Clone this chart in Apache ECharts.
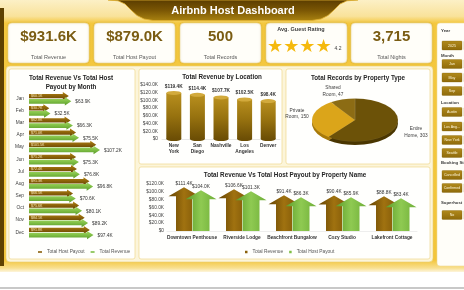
<!DOCTYPE html>
<html><head><meta charset="utf-8">
<script src="https://cdn.jsdelivr.net/npm/echarts@6/dist/echarts.min.js"></script>
<style>html,body{margin:0;padding:0;background:#fff;overflow:hidden}
#main{position:absolute;left:0;top:0;width:464px;height:290px}
#pie{position:absolute;left:309px;top:96.5px;width:92px;height:100px;transform:scaleY(0.5);transform-origin:0 0}</style>
</head><body>
<div id="main"></div><div id="pie"></div>
<script>
// ---- data ----
const dashboardTitle = 'Airbnb Host Dashboard';
const kpiLabels = ['Total Revenue', 'Total Host Payout', 'Total Records', 'Total Nights'];
const kpiValues = ['$931.6K', '$879.0K', '500', '3,715'];
const ratingLabel = 'Avg. Guest Rating';
const avgRating = 4.2;
const months = ['Jan','Feb','Mar','Apr','May','Jun','Jul','Aug','Sep','Oct','Nov','Dec'];
const monthRevenue = [63.9, 32.5, 66.3, 75.5, 107.2, 75.3, 76.8, 96.8, 70.6, 80.1, 89.2, 97.4];
const monthPayout  = [60.1, 30.7, 62.8, 71.0, 101.5, 71.2, 72.4, 91.3, 66.5, 75.6, 84.1, 91.8];
const locations = ['New York', 'San Diego', 'Nashville', 'Los Angeles', 'Denver'];
const locationRevenue = [119.4, 114.4, 107.7, 102.5, 98.4];
const propertyTypes = ['Entire Home', 'Private Room', 'Shared Room'];
const propertyTypeRecords = [303, 150, 47];
const properties = ['Downtown Penthouse', 'Riverside Lodge', 'Beachfront Bungalow', 'Cozy Studio', 'Lakefront Cottage'];
const propertyRevenue = [111.4, 106.6, 91.4, 90.4, 88.8];
const propertyPayout  = [104.0, 101.3, 86.3, 85.9, 83.4];
const chartTitles = ['Total Revenue Vs Total Host\nPayout by Month', 'Total Revenue by Location', 'Total Records by Property Type', 'Total Revenue Vs Total Host Payout by Property Name'];
const slicerHeaders = ['Year', 'Month', 'Location', 'Booking Sta', 'Superhost'];
const slicerButtons = ['2025', 'Jan', 'May', 'Sep', 'Austin', 'Los Ang...', 'New York', 'Seattle', 'Cancelled', 'Confirmed', 'No'];

// ---- helpers ----
const FF = 'Liberation Sans, Arial, sans-serif';
const fmtK = v => '$' + v.toFixed(1) + 'K';
const axisK = v => v === 0 ? '$0' : '$' + v.toFixed(1) + 'K';
const G = echarts.graphic;
const lin = (x0,y0,x1,y1,stops) => new G.LinearGradient(x0,y0,x1,y1,stops.map((c,i)=>({offset:i/(stops.length-1),color:c})));

// ---- layout graphics ----
const els = [];
els.push({type:'rect', shape:{x:0,y:0,width:464,height:290}, style:{fill:'#ffffff'}, z:-20});
els.push({type:'rect', shape:{x:0,y:0,width:464,height:272}, z:-19,
  style:{fill:new G.LinearGradient(0,0,0,1,[{offset:0,color:'#fcf0c6'},{offset:0.06,color:'#f9e29a'},{offset:0.085,color:'#f4c83f'},{offset:0.955,color:'#f3c53a'},{offset:0.985,color:'#f8df8e'},{offset:1,color:'#fdf5dc'}])}});
els.push({type:'rect', shape:{x:0,y:287,width:464,height:2}, style:{fill:'#c8c8c8'}, z:-18});
els.push({type:'rect', shape:{x:0,y:8,width:4,height:258}, style:{fill:'#5e4100'}, z:-18});
// banner
els.push({type:'polygon', shape:{points:[[108,0],[118,0.8],[125,4],[131,10],[137,15.5],[144,19],[153,20.5],[312,20.5],[321,19],[328,15.5],[334,10],[340,4],[347,0.8],[358,0]]}, z:-17,
  style:{fill:lin(0,0,0,1,['#5a3c00','#7a5604','#a98210']), stroke:'#e0b030', lineWidth:0.8}});
els.push({type:'text', x:233, y:10.5, z:5, style:{text:dashboardTitle, fill:'#ffffff', fontSize:11, fontWeight:'bold', fontFamily:FF, align:'center', verticalAlign:'middle'}});
// KPI cards
const cardX = [8, 94, 180, 266, 351];
cardX.forEach(x => els.push({type:'rect', shape:{x:x,y:23,width:81,height:40,r:4}, z:-10,
  style:{fill:'#fffef9', stroke:'#f0dc98', lineWidth:0.6, shadowBlur:2, shadowColor:'rgba(120,90,0,0.25)'}}));
const kpiIdx = [0,1,2,4];
kpiValues.forEach((v,i) => {
  const cx = cardX[kpiIdx[i]] + 40.5;
  els.push({type:'text', x:cx, y:37, z:5, style:{text:v, fill:'#7a5c12', fontSize:15, fontWeight:'bold', fontFamily:FF, align:'center', verticalAlign:'middle'}});
  els.push({type:'text', x:cx, y:57, z:5, style:{text:kpiLabels[i], fill:'#595959', fontSize:5.5, fontFamily:FF, align:'center', verticalAlign:'middle'}});
});
els.push({type:'text', x:301, y:29, z:5, style:{text:ratingLabel, fill:'#404040', fontSize:5.5, fontWeight:'bold', fontFamily:FF, align:'center', verticalAlign:'middle'}});
els.push({type:'text', x:267, y:47.5, z:5, style:{text:'★'.repeat(Math.floor(avgRating)), fill:'#f5b90c', fontSize:18, fontFamily:'DejaVu Sans', align:'left', verticalAlign:'middle'}});
els.push({type:'text', x:338, y:49, z:5, style:{text:String(avgRating), fill:'#404040', fontSize:5, fontFamily:FF, align:'center', verticalAlign:'middle'}});
// slicer panel
els.push({type:'rect', shape:{x:437,y:23,width:40,height:243,r:3}, z:-10, style:{fill:'#fffef9', stroke:'#f0dc98', lineWidth:0.6}});
const hdrY = [30.7, 55.7, 103, 163, 203];
slicerHeaders.forEach((t,i)=> els.push({type:'text', x:441, y:hdrY[i], z:5, style:{text:t, fill:'#3a3a3a', fontSize:4.3, fontWeight:'bold', fontFamily:FF, align:'left', verticalAlign:'middle'}}));
const btnY = [41, 59.5, 73, 86.5, 107.5, 122, 135.5, 148.5, 170.5, 183.5, 210.5];
slicerButtons.forEach((t,i)=>{
  [442, 464].forEach((bx,k)=> els.push({type:'rect', shape:{x:bx,y:btnY[i],width:20,height:9,r:0.8}, z:-5,
    style:{fill:lin(0,0,0,1,['#b18a1c','#8e6a0a']), stroke:'#7a5800', lineWidth:0.3}}));
  els.push({type:'text', x:452, y:btnY[i]+4.6, z:5, style:{text:t, fill:'#fff6d8', fontSize:3.6, fontFamily:FF, align:'center', verticalAlign:'middle'}});
});
// main panel + cards
els.push({type:'rect', shape:{x:6,y:66,width:427,height:196,r:4}, z:-10, style:{fill:'#fcf5da', stroke:'#e8cf70', lineWidth:0.6}});
[[9,69,126,190],[139,69,143,95],[286,69,144,95],[139,167,291,92]].forEach(c=>
  els.push({type:'rect', shape:{x:c[0],y:c[1],width:c[2],height:c[3],r:2}, z:-9, style:{fill:'#fffffd', stroke:'#efd98c', lineWidth:0.7}}));
const titlePos = [[71,83],[222,77.5],[358,78],[285,175.5]];
chartTitles.forEach((t,i)=> els.push({type:'text', x:titlePos[i][0], y:titlePos[i][1], z:5,
  style:{text:t, fill:'#262626', fontSize:6.3, fontWeight:'bold', fontFamily:FF, align:'center', verticalAlign:'middle', lineHeight:9}}));
// pie labels
const pieLabelPos = [[416,132],[297,113.5],[333,91]];
propertyTypes.forEach((n,i)=> els.push({type:'text', x:pieLabelPos[i][0], y:pieLabelPos[i][1], z:5,
  style:{text:n.replace(' ','\n') + ', ' + propertyTypeRecords[i], fill:'#404040', fontSize:4.8, fontFamily:FF, align:'center', verticalAlign:'middle', lineHeight:6.5}}));

// ---- custom arrow renderers ----
const brownH = lin(0,0,0,1,['#b2840f','#8a600a','#624200']);
const greenH = lin(0,0,0,1,['#a6d865','#7fbf45','#5a9a2a']);
function hArrow(offset, bh, hh, hl, fill, inside){
  return function(params, api){
    const v = api.value(0), c = api.value(1);
    const s = api.coord([0,c]), e = api.coord([v,c]);
    const y = s[1] + offset, x0 = s[0], x1 = e[0], xh = x1 - hl;
    const ch = [{type:'polygon', shape:{points:[[x0,y-bh],[xh,y-bh],[xh,y-hh],[x1,y],[xh,y+hh],[xh,y+bh],[x0,y+bh]]}, style:{fill:fill}}];
    if(inside) ch.push({type:'text', style:{text:fmtK(v), x:x0+2, y:y, fill:'#f5e6b8', fontSize:3.6, fontFamily:FF, verticalAlign:'middle'}});
    else ch.push({type:'text', style:{text:fmtK(v), x:x1+4, y:y+0.5, fill:'#333333', fontSize:4.8, fontFamily:FF, verticalAlign:'middle'}});
    return {type:'group', children:ch};
  };
}
const brownV = lin(0,0,1,0,['#654300','#a07210','#7a5306']);
const greenV = lin(0,0,1,0,['#5c9c2a','#8fca52','#6eae38']);
function vArrow(offset, bw, hw, hh, fill){
  return function(params, api){
    const c = api.value(0), v = api.value(1);
    const b = api.coord([c,0]), t = api.coord([c,v]);
    const x = b[0] + offset, y0 = b[1], y1 = t[1], yh = y1 + hh;
    return {type:'group', children:[
      {type:'polygon', shape:{points:[[x-bw,y0],[x-bw,yh],[x-hw,yh],[x,y1],[x+hw,yh],[x+bw,yh],[x+bw,y0]]}, style:{fill:fill}},
      {type:'text', style:{text:fmtK(v), x:x, y:y1-3.5, fill:'#333333', fontSize:4.8, fontFamily:FF, align:'center', verticalAlign:'middle'}}
    ]};
  };
}

const axLbl = {fontSize:4.8, color:'#404040', fontFamily:FF};
const main = echarts.init(document.getElementById('main'), null, {renderer:'canvas'});
main.setOption({
  animation:false,
  graphic:{elements:els},
  legend:[
    {left:33, top:244.5, itemWidth:4, itemHeight:1.6, itemGap:6, icon:'rect', textStyle:{fontSize:4.8, color:'#555', fontFamily:FF},
     data:[{name:'Total Host Payout', itemStyle:{color:'#8a600a'}},{name:'Total Revenue', itemStyle:{color:'#7fbf45'}}], selectedMode:false},
    {left:240, top:244.5, itemWidth:2.5, itemHeight:2.5, itemGap:6, icon:'rect', textStyle:{fontSize:4.8, color:'#555', fontFamily:FF},
     data:[{name:'Total Revenue', itemStyle:{color:'#8a600a'}},{name:'Total Host Payout', itemStyle:{color:'#7fbf45'}}], selectedMode:false}
  ],
  grid:[
    {left:29, top:92.4, width:106, height:146},
    {left:162, top:85, width:118, height:54},
    {left:167, top:184, width:250, height:47}
  ],
  xAxis:[
    {gridIndex:0, type:'value', min:0, max:160, show:false},
    {gridIndex:1, type:'category', data:locations, axisLine:{lineStyle:{color:'#d9d9d9', width:0.6}}, axisTick:{show:false},
     axisLabel:Object.assign({}, axLbl, {fontWeight:'bold', color:'#333', margin:4, lineHeight:6, formatter:v=>v.replace(' ','\n'), interval:0})},
    {gridIndex:2, type:'category', data:properties, axisLine:{lineStyle:{color:'#e3e3e3', width:0.6}}, axisTick:{show:false},
     axisLabel:Object.assign({}, axLbl, {fontWeight:'bold', color:'#333', margin:4, interval:0})}
  ],
  yAxis:[
    {gridIndex:0, type:'category', data:months, inverse:true, axisLine:{show:false}, axisTick:{show:false}, axisLabel:Object.assign({}, axLbl, {margin:5})},
    {gridIndex:1, type:'value', min:0, max:140, interval:20, splitLine:{show:false}, axisLabel:Object.assign({}, axLbl, {formatter:axisK, margin:4})},
    {gridIndex:2, type:'value', min:0, max:120, interval:20, splitLine:{show:false}, axisLabel:Object.assign({}, axLbl, {formatter:axisK, margin:3})}
  ],
  series:[
    {type:'custom', name:'Total Host Payout', xAxisIndex:0, yAxisIndex:0, encode:{x:0,y:1}, renderItem:hArrow(-2.4, 2.2, 4, 6, brownH, true), data:monthPayout.map((v,i)=>[v,i]), z:3},
    {type:'custom', name:'Total Revenue', xAxisIndex:0, yAxisIndex:0, encode:{x:0,y:1}, renderItem:hArrow(2.8, 2.4, 4.2, 6.5, greenH, false), data:monthRevenue.map((v,i)=>[v,i]), z:4},
    {type:'bar', name:'Location Revenue', xAxisIndex:1, yAxisIndex:1, barWidth:15, data:locationRevenue,
     itemStyle:{color:lin(0,0,0,1,['#b88f1e','#97720f','#6c4e05'])}, z:3},
    {type:'pictorialBar', name:'Location Revenue', xAxisIndex:1, yAxisIndex:1, symbol:'circle', symbolSize:[15,4], symbolPosition:'end', symbolOffset:[0,'-50%'],
     itemStyle:{color:'#d2aa3c'}, data:locationRevenue, z:5,
     label:{show:true, position:'top', distance:2, formatter:p=>fmtK(p.value), fontSize:4.8, fontWeight:'bold', color:'#333', fontFamily:FF}},
    {type:'pictorialBar', name:'Location Revenue', xAxisIndex:1, yAxisIndex:1, symbol:'circle', symbolSize:[15,4], symbolPosition:'start', symbolOffset:[0,'50%'],
     itemStyle:{color:'#6c4e05'}, data:locationRevenue, z:2},
    {type:'custom', name:'Total Revenue', xAxisIndex:2, yAxisIndex:2, encode:{x:0,y:1}, renderItem:vArrow(-8, 8, 15.5, 9, brownV), data:propertyRevenue.map((v,i)=>[i,v]), z:3},
    {type:'custom', name:'Total Host Payout', xAxisIndex:2, yAxisIndex:2, encode:{x:0,y:1}, renderItem:vArrow(9, 8.5, 15.5, 9, greenV), data:propertyPayout.map((v,i)=>[i,v]), z:4}
  ]
});

// ---- tilted pie (rendered by pie series, squashed vertically by the container) ----
const pieColors = ['#6c5208', '#dba51a', '#8c6c14'];
const pieDepth = ['#4a3600', '#a87a08', '#5e4808'];
const pie = echarts.init(document.getElementById('pie'), null, {renderer:'canvas'});
pie.setOption({
  animation:false,
  series:[
    {type:'pie', radius:43, center:[46,53], startAngle:90, silent:true, label:{show:false}, labelLine:{show:false}, z:1,
     data:propertyTypes.map((n,i)=>({name:n, value:propertyTypeRecords[i], itemStyle:{color:pieDepth[i]}}))},
    {type:'pie', radius:43, center:[46,46], startAngle:90, silent:true, label:{show:false}, labelLine:{show:false}, z:2,
     data:propertyTypes.map((n,i)=>({name:n, value:propertyTypeRecords[i], itemStyle:{color:pieColors[i], borderColor:'rgba(255,255,255,0.25)', borderWidth:0.4}}))}
  ]
});
</script>
</body></html>
